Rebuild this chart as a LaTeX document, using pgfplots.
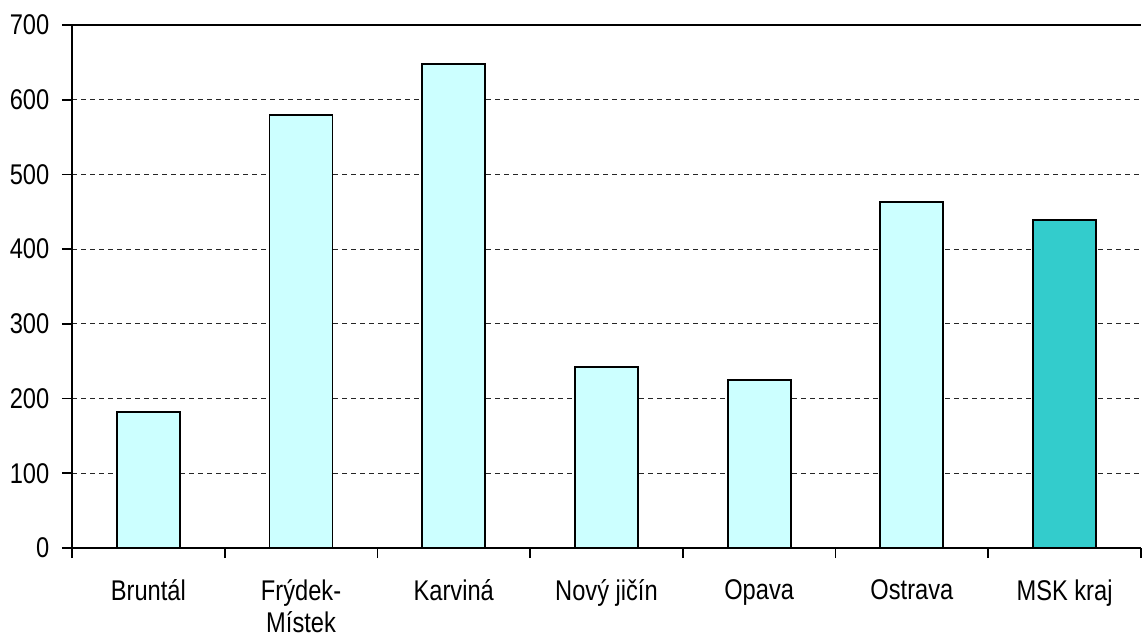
\documentclass[border=0pt]{standalone}
\usepackage{pgfplots}
\pgfplotsset{compat=1.18}
\usepackage{fontspec}
\setmainfont{Liberation Sans}[FakeStretch=0.83]
\definecolor{barlight}{HTML}{CCFFFF}
\definecolor{barteal}{HTML}{33CCCC}
\begin{document}
\fontsize{28.5bp}{32bp}\selectfont
\begin{tikzpicture}
\useasboundingbox (0,0) rectangle (1144bp,-639bp);
\begin{axis}[
  at={(72bp,-548bp)}, anchor=south west,
  scale only axis, width=1069bp, height=523bp,
  xmin=-0.5, xmax=6.5, ymin=0, ymax=700,
  axis x line*=bottom, axis y line*=left,
  axis line style={line width=1.8bp, -},
  xtick={0,...,6},
  xticklabels={Bruntál, {Frýdek-\\Místek}, Karviná, Nový jičín, Opava, Ostrava, MSK kraj},
  xticklabel style={align=center, font=\fontsize{28.5bp}{32bp}\selectfont, yshift=-12bp},
  major x tick style={draw=none},
  minor xtick={-0.5,0.5,...,6.5},
  minor tick length=10bp,
  minor x tick style={line width=1.6bp, black},
  ytick={0,100,...,700},
  yticklabel style={font=\fontsize{28.5bp}{32bp}\selectfont, xshift=-3bp},
  /pgf/number format/assume math mode=true,
  major tick length=10bp,
  tick align=outside,
  major y tick style={line width=1.6bp, black},
  ymajorgrids,
  major grid style={black!85, line width=0.8bp, dash pattern=on 5bp off 4bp},
  clip=false,
]
\addplot[ybar, bar width=63bp, bar shift=0pt, fill=barlight, draw=black, line width=1.8bp]
  coordinates {(0,182) (1,580) (2,648) (3,242) (4,225) (5,463)};
\addplot[ybar, bar width=63bp, bar shift=0pt, fill=barteal, draw=black, line width=1.8bp]
  coordinates {(6,439)};
\draw[line width=1.8bp] (rel axis cs:0,1) -- (rel axis cs:1,1);
\end{axis}
\end{tikzpicture}
\end{document}
